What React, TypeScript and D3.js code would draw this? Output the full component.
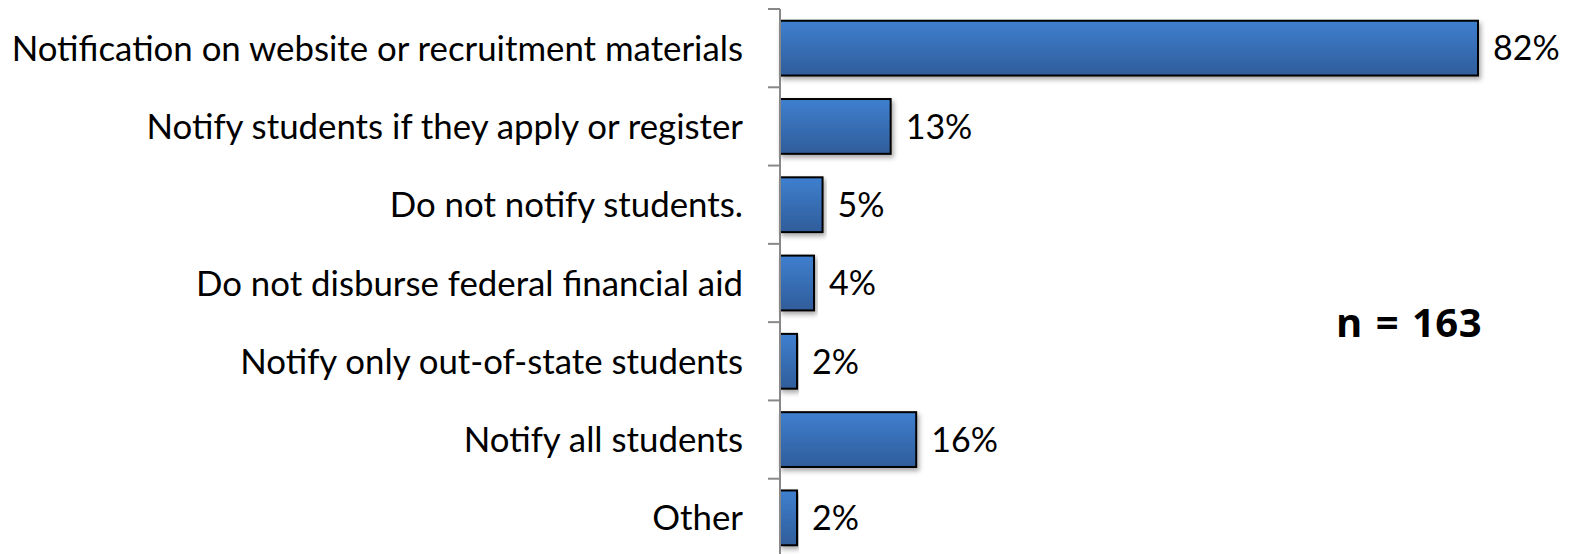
import React from "react";
import * as d3 from "d3";

const categories = [
  "Notification on website or recruitment materials",
  "Notify students if they apply or register",
  "Do not notify students.",
  "Do not disburse federal financial aid",
  "Notify only out-of-state students",
  "Notify all students",
  "Other",
];
const values = [82, 13, 5, 4, 2, 16, 2];
const nLabel = "n = 163";

const W = 1570;
const H = 554;
const axisX = 780;
const top = 9;
const bottom = 557;

export default function App() {
  const x = d3.scaleLinear().domain([0, 82]).range([axisX, 1478]);
  const y = d3.scaleBand().domain(categories).range([top, bottom]).paddingInner(0.3).paddingOuter(0.15);
  const step = y.step();
  const tickYs = d3.range(categories.length + 1).map((i) => top + i * step);
  const font = "Lato, 'Open Sans', sans-serif";
  return (
    <svg width={W} height={H} style={{ position: "absolute", left: 0, top: 0 }}>
      <defs>
        <linearGradient id="barGrad" x1="0" y1="0" x2="0" y2="1">
          <stop offset="0%" stopColor="#3f7fcf" />
          <stop offset="100%" stopColor="#2f5d9a" />
        </linearGradient>
        <filter id="shadow" x="-5%" y="-20%" width="115%" height="160%">
          <feDropShadow dx="2" dy="3" stdDeviation="2.5" floodColor="#000" floodOpacity="0.35" />
        </filter>
      </defs>
      <rect width={W} height={H} fill="#fff" />
      {categories.map((c, i) => {
        const by = y(c)!;
        const bh = y.bandwidth();
        return (
          <g key={c}>
            <rect
              x={x(0)}
              y={by}
              width={x(values[i]) - x(0)}
              height={bh}
              fill="url(#barGrad)"
              stroke="#000"
              strokeWidth={2}
              filter="url(#shadow)"
            />
            <text
              x={x(values[i]) + 15}
              y={by + bh / 2}
              dy="0.36em"
              fontFamily={font}
              fontSize={34}
              fill="#000"
            >
              {values[i]}%
            </text>
            <text
              x={743}
              y={by + bh / 2}
              dy="0.36em"
              textAnchor="end"
              fontFamily={font}
              fontSize={34.8}
              fill="#000"
            >
              {c}
            </text>
          </g>
        );
      })}
      <line x1={axisX} x2={axisX} y1={top} y2={H} stroke="#888" strokeWidth={2} />
      {tickYs.map((t, i) => (
        <line key={i} x1={axisX - 12} x2={axisX} y1={t} y2={t} stroke="#888" strokeWidth={2} />
      ))}
      <text
        x={1409}
        y={337}
        textAnchor="middle"
        fontFamily="'Open Sans', sans-serif"
        fontWeight="bold"
        fontSize={40}
        letterSpacing={0.5}
        wordSpacing={2}
        fill="#000"
      >
        {nLabel}
      </text>
    </svg>
  );
}
